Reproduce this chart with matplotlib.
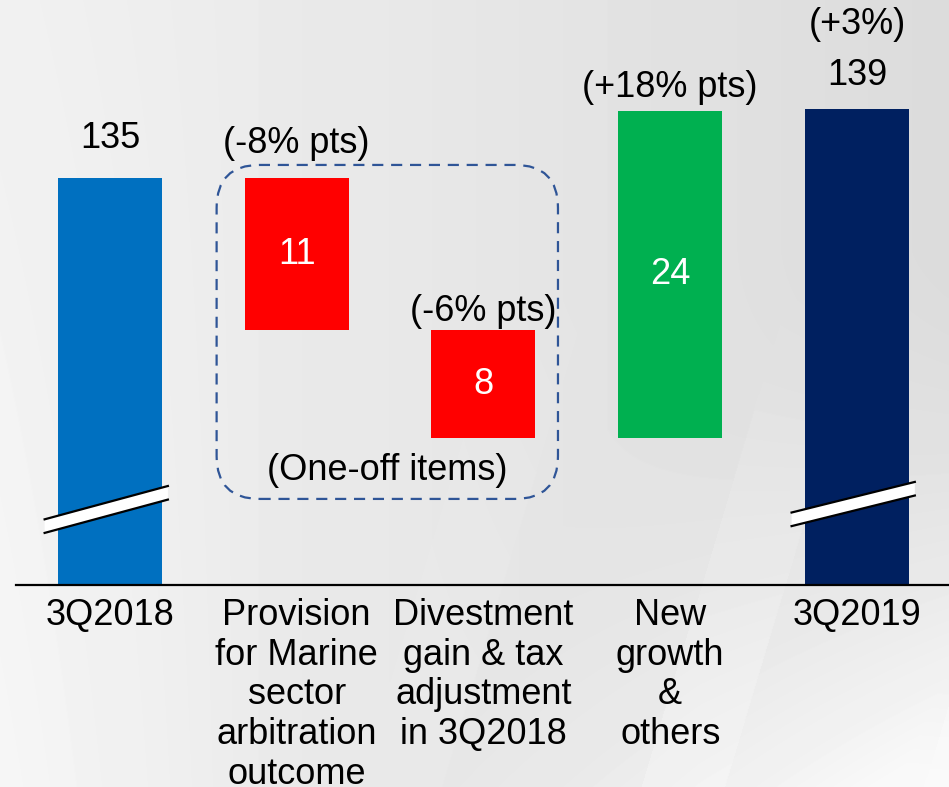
import numpy as np
import matplotlib.pyplot as plt
from matplotlib.patches import FancyBboxPatch, Polygon

plt.rcParams['font.family'] = ['Liberation Sans', 'DejaVu Sans']

# data (bars are not drawn exactly to scale in the source)
categories = ['3Q2018',
              'Provision\nfor Marine\nsector\narbitration\noutcome',
              'Divestment\ngain & tax\nadjustment\nin 3Q2018',
              'New\ngrowth\n&\nothers',
              '3Q2019']
start_value = 135.0
changes = [-11.2, -7.9, 24.0]
end_value = 140.1
value_labels = ['135', '11', '8', '24', '139']
pct_labels = ['', '(-8% pts)', '(-6% pts)', '(+18% pts)', '(+3%)']

colors = ['#0070C0', '#FF0000', '#FF0000', '#00B050', '#002060']
# label offsets above bar tops, in pixels
value_off = [40, 0, 0, 0, 33]
pct_off = [0, 35, 19, 24, 84]

W, H = 949, 787
fig = plt.figure(figsize=(W / 100, H / 100), dpi=100)

# background: light grey gradient with paler swoosh at bottom right
yy, xx = np.mgrid[0:H, 0:W].astype(float)
bg = 0.945 - 0.085 * xx / W
bg += (1 - bg) * 0.35 * np.clip(1 - xx / 250, 0, 1) * np.clip(yy / H, 0, 1)
w = np.clip((yy - 250) / 537, 0, 1) ** 1.3 * np.clip((xx + 0.45 * yy - 800) / 450, 0, 1)
bg += (1 - bg) * 0.85 * w
band = np.clip((yy - 300) / 487, 0, 1) * (np.sin((xx + 0.3 * yy) / 45.0) > 0.6)
bg += (1 - bg) * 0.25 * band * np.clip((xx - 300) / 400, 0, 1)
bg_ax = fig.add_axes([0, 0, 1, 1], zorder=-1)
bg_ax.imshow(bg, cmap='gray', vmin=0, vmax=1, aspect='auto', interpolation='bilinear')
bg_ax.axis('off')

ax = fig.add_axes([0, 202 / H, 1, 1 - 202 / H])
ax.patch.set_alpha(0)

# waterfall geometry
bottoms = [0]
heights = [start_value]
level = start_value
for c in changes:
    bottoms.append(min(level, level + c))
    heights.append(abs(c))
    level += c
bottoms.append(0)
heights.append(end_value)
x = np.arange(len(categories))
tops = [b + h for b, h in zip(bottoms, heights)]

bw = 0.557
ax.bar(x, heights, bottom=bottoms, width=bw, color=colors, zorder=2)

px = 0.72  # points per pixel at 100 dpi
for i in range(len(x)):
    if i in (0, len(x) - 1):
        ax.annotate(value_labels[i], (x[i], tops[i]), xytext=(0, value_off[i] * px),
                    textcoords='offset points', ha='center', va='center', fontsize=26)
    else:
        ax.text(x[i], bottoms[i] + heights[i] / 2, value_labels[i], ha='center',
                va='center', fontsize=26, color='white', zorder=3)
    if pct_labels[i]:
        ax.annotate(pct_labels[i], (x[i], tops[i]), xytext=(0, pct_off[i] * px),
                    textcoords='offset points', ha='center', va='center', fontsize=26)

# axis break marks on the total bars
def break_mark(xc, y0, rise):
    xl, xr = xc - 0.35, xc + 0.31
    poly = Polygon([(xl, y0), (xr, y0 + rise), (xr, y0 + rise - 1.0),
                    (xl, y0 - 1.0)], closed=True, facecolor='white', edgecolor='none', zorder=4)
    ax.add_patch(poly)
    ax.plot([xl, xr], [y0, y0 + rise], color='black', lw=1.6, zorder=5)
    ax.plot([xl, xr], [y0 - 1.0, y0 + rise - 1.0], color='black', lw=1.6, zorder=5)

break_mark(x[0], 109.9, 2.45)
break_mark(x[-1], 110.4, 2.25)

# dashed box round the one-off items
scale_x, scale_y = 186.75, 13.6
box = FancyBboxPatch((0.571, 111.4), 2.399 - 0.571, 135.96 - 111.4,
                     boxstyle='round,pad=0,rounding_size=0.23',
                     mutation_aspect=scale_x / scale_y,
                     facecolor='none', edgecolor='#2F5597', lw=1.6,
                     linestyle=(0, (5, 3.5)), zorder=1)
ax.add_patch(box)
ax.text(1.483, 113.5, '(One-off items)', ha='center', va='center', fontsize=26)

ax.set_xlim(-0.589, 4.493)
ax.set_ylim(105.07, 148.09)
ax.set_xticks(x, categories)
for lab in ax.get_xticklabels():
    lab.set_linespacing(1.17)
ax.tick_params(axis='x', length=0, pad=9.5, labelsize=26)
ax.set_yticks([])
for s in ['top', 'left', 'right']:
    ax.spines[s].set_visible(False)
ax.spines['bottom'].set_bounds(-0.503, 4.493)
ax.spines['bottom'].set_linewidth(1.6)

fig.savefig('out.png', dpi=100)
